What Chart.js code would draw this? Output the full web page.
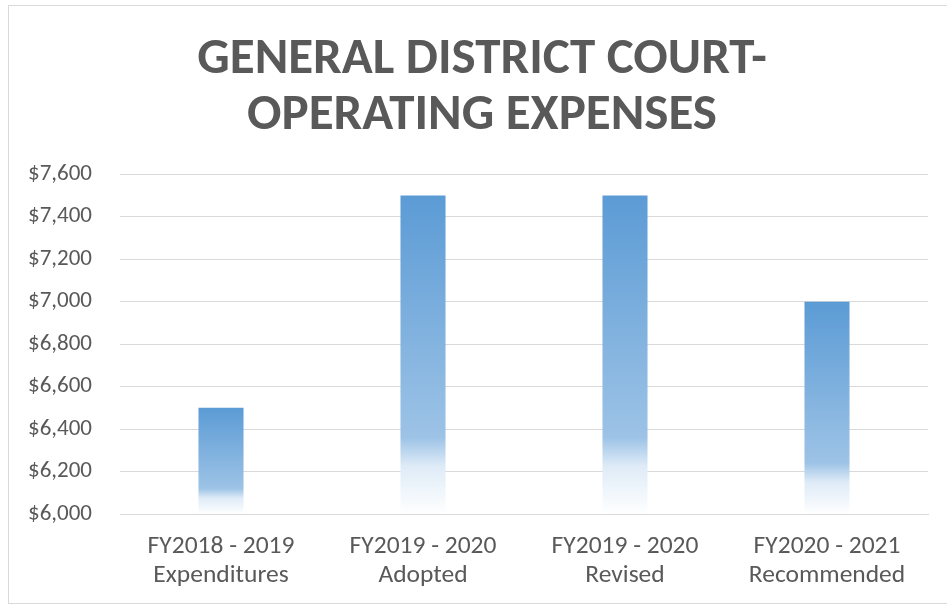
<!DOCTYPE html>
<html>
<head>
<meta charset="utf-8">
<script src="https://cdn.jsdelivr.net/npm/chart.js@4.4.0/dist/chart.umd.min.js"></script>
<style>
  html, body { margin: 0; padding: 0; background: #fff; overflow: hidden; }
  #box { position: absolute; left: 8px; top: 5px; width: 946px; height: 597px; border: 1px solid #d9d9d9; }
  canvas { display: block; }
</style>
</head>
<body>
<div id="box"><canvas id="chart" width="946" height="597"></canvas></div>
<script>
// datos del gráfico
const titleLines = ['GENERAL DISTRICT COURT-', 'OPERATING EXPENSES'];
const categories = [
    ['FY2018 - 2019', 'Expenditures'],
    ['FY2019 - 2020', 'Adopted'],
    ['FY2019 - 2020', 'Revised'],
    ['FY2020 - 2021', 'Recommended']
];
const expenses = [6500, 7500, 7500, 7000];
const yMin = 6000;
const yMax = 7600;
const yStep = 200;

const FONT = "Carlito, Calibri, 'Open Sans', sans-serif";
const GREY = '#595959';

// degradado azul -> blanco en cada barra
function barGradient(ctx) {
    const chart = ctx.chart;
    if (!chart.chartArea || ctx.raw === undefined) return '#5b9bd5';
    const y = chart.scales.y;
    const top = y.getPixelForValue(ctx.raw);
    const bottom = y.getPixelForValue(yMin);
    const g = chart.ctx.createLinearGradient(0, top, 0, bottom);
    g.addColorStop(0, '#5b9bd5');
    g.addColorStop(0.76, '#9dc3e6');
    g.addColorStop(0.85, '#deebf7');
    g.addColorStop(1, '#ffffff');
    return g;
}

new Chart(document.getElementById('chart'), {
    type: 'bar',
    data: {
        labels: categories,
        datasets: [{
            label: 'Operating Expenses',
            data: expenses,
            backgroundColor: barGradient,
            borderWidth: 0,
            categoryPercentage: 1,
            barPercentage: 0.223
        }]
    },
    options: {
        responsive: false,
        animation: false,
        layout: { padding: { left: 0, right: 0, top: 26, bottom: 0 } },
        plugins: {
            legend: { display: false },
            tooltip: { enabled: false },
            title: {
                display: true,
                text: titleLines,
                color: GREY,
                font: { family: FONT, size: 51, weight: 'bold', lineHeight: 1.1 },
                padding: { top: 0, bottom: 30 }
            }
        },
        scales: {
            x: {
                afterFit: (axis) => { axis.height = 89; },
                grid: { display: false, drawTicks: false },
                border: { color: '#d9d9d9', width: 1 },
                ticks: { color: GREY, font: { family: FONT, size: 25.5, lineHeight: 1.15 }, padding: 18, maxRotation: 0 }
            },
            y: {
                min: yMin,
                max: yMax,
                afterFit: (axis) => { axis.width = 111; },
                grid: { color: '#d9d9d9', drawTicks: false },
                border: { display: false },
                ticks: {
                    stepSize: yStep,
                    color: GREY,
                    padding: 28,
                    font: { family: FONT, size: 23 },
                    callback: (v) => '$' + v.toLocaleString('en-US')
                }
            },
            // margen derecho vacío, así el título queda centrado en todo el lienzo
            margen: {
                axis: 'y',
                position: 'right',
                afterFit: (axis) => { axis.width = 27; },
                grid: { display: false, drawTicks: false },
                border: { display: false },
                ticks: { display: false }
            }
        }
    }
});
</script>
</body>
</html>
